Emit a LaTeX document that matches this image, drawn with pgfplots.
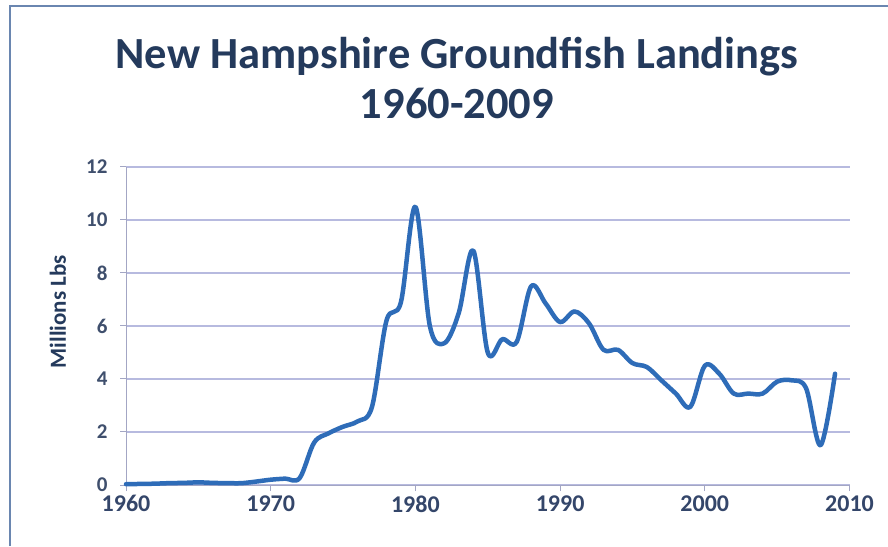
\documentclass[border=0pt]{standalone}
\usepackage{pgfplots}
\pgfplotsset{compat=1.18}
\usepackage{fontspec}
\setmainfont{Carlito}

\definecolor{titlec}{HTML}{243A5C}
\definecolor{tickc}{HTML}{34466A}
\definecolor{linec}{HTML}{2E6CB8}
\definecolor{gridc}{HTML}{B7BADF}
\definecolor{axisc}{HTML}{A3A6C4}
\definecolor{framec}{HTML}{6A86B0}

\begin{document}
\begin{tikzpicture}[x=1pt,y=1pt]
  % page area and outer frame
  \fill[white] (0,0) rectangle (888,546);
  \useasboundingbox (0,0) rectangle (888,546);
  \draw[framec, line width=1.5pt] (10,0) -- (10,540) -- (888,540);

  % title
  \node[font=\fontsize{44.5}{50}\selectfont\bfseries, text=titlec, align=center, anchor=north]
    at (457,512) {New Hampshire Groundfish Landings\\1960-2009};

  \begin{axis}[
    at={(126pt,61pt)}, anchor=south west,
    scale only axis, width=723.5pt, height=318pt,
    xmin=1960, xmax=2010, ymin=0, ymax=12,
    xtick={1960,1970,...,2010}, ytick={0,2,...,12},
    axis x line*=bottom, axis y line*=left,
    axis line style={axisc, line width=1pt},
    tick style={axisc, line width=1pt},
    tick align=outside, major tick length=6pt,
    ymajorgrids, grid style={gridc, line width=1.3pt},
    /pgf/number format/assume math mode=true,
    xticklabel style={/pgf/number format/1000 sep=,
      font=\fontsize{24}{24}\selectfont\bfseries, text=tickc, yshift=-1pt},
    yticklabel style={font=\fontsize{21}{21}\selectfont\bfseries,
      text=tickc!85!gray, xshift=-9pt},
    ylabel={Millions Lbs},
    ylabel style={at={(axis description cs:-0.094,0.545)}, anchor=center,
      font=\fontsize{23}{23}\selectfont\bfseries, text=titlec},
    clip=false,
  ]
    \addplot[linec, line width=4.5pt, smooth, tension=0.55, line join=round, line cap=round]
      coordinates {
        (1960,0.03) (1961,0.04) (1962,0.05) (1963,0.07) (1964,0.08)
        (1965,0.1) (1966,0.08) (1967,0.07) (1968,0.07) (1969,0.13)
        (1970,0.2) (1971,0.24) (1972,0.26) (1973,1.6) (1974,1.95)
        (1975,2.2) (1976,2.4) (1977,2.95) (1978,6.2) (1979,6.9)
        (1980,10.5) (1981,6.0) (1982,5.35) (1983,6.5) (1984,8.85)
        (1985,5.0) (1986,5.5) (1987,5.4) (1988,7.5) (1989,6.85)
        (1990,6.15) (1991,6.55) (1992,6.1) (1993,5.1) (1994,5.1)
        (1995,4.6) (1996,4.45) (1997,3.95) (1998,3.45) (1999,2.95)
        (2000,4.5) (2001,4.2) (2002,3.45) (2003,3.45) (2004,3.45)
        (2005,3.9) (2006,3.95) (2007,3.65) (2008,1.5) (2009,4.2)
      };
  \end{axis}
\end{tikzpicture}
\end{document}
